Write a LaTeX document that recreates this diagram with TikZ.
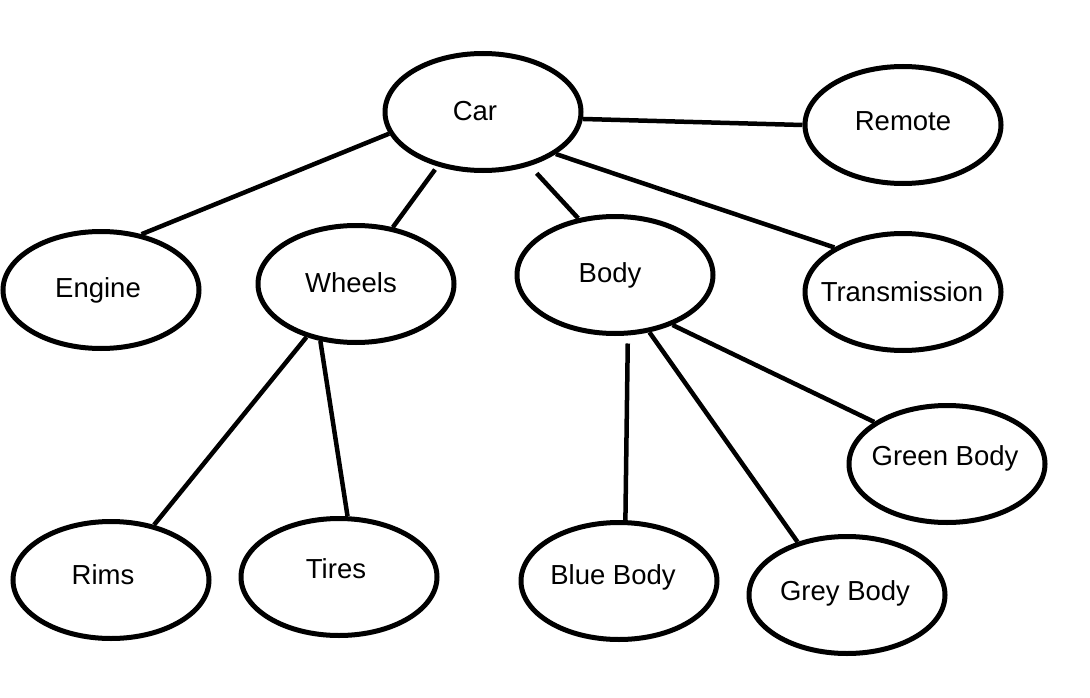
\documentclass[tikz,border=0pt]{standalone}
\usepackage{fontspec}
\setmainfont{Liberation Sans}
\usetikzlibrary{shapes.geometric}
\begin{document}
\begin{tikzpicture}[x=1pt,y=-1pt,
  oval/.style={ellipse,draw=black,line width=5pt,minimum width=196pt,minimum height=117pt,inner sep=0pt},
  lbl/.style={anchor=base,inner sep=0pt,font=\fontsize{27.5}{31}\selectfont},
  link/.style={line width=4.5pt,black}]
\useasboundingbox[fill=white] (0,0) rectangle (1090,698);
% ellipses
\node[oval] (car) at (483,112) {};
\node[oval] (remote) at (903,125) {};
\node[oval] (engine) at (101,290) {};
\node[oval] (wheels) at (356,284) {};
\node[oval] (body) at (615,275) {};
\node[oval] (trans) at (903,292) {};
\node[oval] (green) at (947,464) {};
\node[oval] (rims) at (111,580) {};
\node[oval] (tires) at (339,577) {};
\node[oval] (blue) at (619,581) {};
\node[oval] (grey) at (847,595) {};
% labels
\node[lbl] (carL) at (475,121) {Car};
\node[lbl] (remoteL) at (903,131) {Remote};
\node[lbl] (engineL) at (98,297) {Engine};
\node[lbl] (wheelsL) at (351,292) {Wheels};
\node[lbl] (bodyL) at (610,282) {Body};
\node[lbl] (transL) at (902,301) {Transmission};
\node[lbl] (greenL) at (945,465) {Green Body};
\node[lbl] (rimsL) at (103,584) {Rims};
\node[lbl] (tiresL) at (336,578) {Tires};
\node[lbl] (blueL) at (613,584) {Blue Body};
\node[lbl] (greyL) at (845,600) {Grey Body};
% connectors
\draw[link] (car.-4) -- (remote.180);
\draw[link] (car.193) -- (engine.54);
\draw[link,shorten <=4pt] (car.230) -- (wheels.57);
\draw[link,shorten <=10pt] (car.-49) -- (body.123);
\draw[link] (car.-30) -- (trans.147);
\draw[link] (body.-41) -- (green.150);
\draw[link,shorten <=8pt] (body.-78) -- (blue.84);
\draw[link] (body.-59) -- (grey.133);
\draw[link] (wheels.227) -- (rims.52);
\draw[link] (wheels.238) -- (tires.82);
\end{tikzpicture}
\end{document}
